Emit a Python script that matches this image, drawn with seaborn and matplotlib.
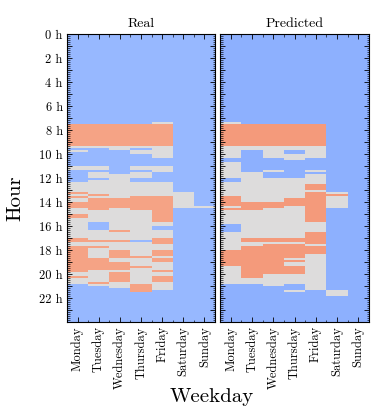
import numpy as np
import matplotlib
matplotlib.use("Agg")
import matplotlib.pyplot as plt
import seaborn as sns
from matplotlib.colors import ListedColormap
from matplotlib.ticker import FixedLocator, MultipleLocator

# 状態: 0 = blue, 1 = grey, 2 = salmon
B, G, S = 0, 1, 2

days = ["Monday", "Tuesday", "Wednesday", "Thursday", "Friday", "Saturday", "Sunday"]
hour_labels = [f"{h} h" if h % 2 == 0 else "" for h in range(24)]
titles = ["Real", "Predicted"]

# (start hour, end hour, state) painted in order over a blue background
real_segments = {
    "Monday": [(9.25, 9.58, G), (9.67, 9.83, G), (11.08, 11.25, G), (12.25, 20.83, G),
               (7.5, 9.25, S), (13.17, 13.33, S), (13.5, 13.75, S), (14.0, 14.58, S),
               (15.08, 15.25, S), (15.42, 15.58, B), (17.08, 17.25, S), (17.67, 19.83, S),
               (20.17, 20.33, S)],
    "Tuesday": [(9.25, 9.42, G), (11.08, 11.25, G), (11.58, 20.97, G), (12.0, 12.17, B),
                (7.5, 9.25, S), (9.42, 9.58, S), (13.25, 13.42, S), (13.75, 14.42, S),
                (14.58, 14.75, S), (15.75, 15.92, B), (16.08, 16.25, B), (17.17, 17.33, S),
                (17.75, 17.83, S), (18.5, 18.58, S), (18.75, 19.67, S), (20.67, 20.83, S)],
    "Wednesday": [(9.25, 9.75, G), (11.75, 11.92, G), (12.08, 21.17, G), (12.42, 12.58, B),
                  (7.5, 9.25, S), (13.75, 14.58, S), (15.92, 16.08, B), (16.25, 16.42, S),
                  (17.17, 17.33, S), (17.92, 18.67, S), (19.08, 19.67, S), (19.83, 20.67, S)],
    "Thursday": [(9.25, 9.42, G), (9.75, 10.08, G), (11.08, 11.25, G), (11.58, 21.5, G),
                 (12.08, 12.25, B), (7.5, 9.25, S), (13.5, 14.75, S), (16.42, 16.58, B),
                 (17.17, 17.33, B), (18.58, 18.75, S), (19.25, 19.5, S), (20.83, 21.5, S)],
    "Friday": [(7.33, 7.5, G), (9.25, 10.25, G), (11.08, 11.58, G), (12.25, 21.33, G),
               (7.5, 9.25, S), (13.5, 15.75, S), (15.92, 16.25, B), (16.92, 17.58, S),
               (17.92, 18.42, S), (18.75, 19.0, S), (19.67, 19.83, S), (20.17, 20.42, S),
               (20.58, 20.75, S)],
    "Saturday": [(13.17, 14.58, G), (13.42, 13.58, S)],
    "Sunday": [(14.33, 14.58, G)],
}

pred_segments = {
    "Monday": [(7.25, 7.5, G), (9.25, 10.25, G), (10.42, 10.58, G), (10.75, 20.83, G),
               (12.08, 12.25, B), (7.5, 9.25, S), (13.58, 14.25, S), (14.42, 14.75, S),
               (15.83, 16.42, B), (17.92, 19.25, S)],
    "Tuesday": [(7.42, 7.58, G), (9.25, 9.75, G), (11.58, 20.83, G), (7.58, 9.25, S),
                (13.92, 14.42, S), (14.5, 14.75, S), (17.08, 17.25, S), (17.67, 20.33, S)],
    "Wednesday": [(9.25, 9.92, G), (10.08, 10.25, G), (11.25, 11.42, G), (11.92, 20.92, G),
                  (7.5, 9.25, S), (14.08, 14.58, S), (17.08, 17.25, S), (17.42, 20.0, S)],
    "Thursday": [(7.42, 7.58, G), (9.25, 9.75, G), (10.0, 10.42, G), (11.92, 20.83, G),
                 (21.33, 21.5, G), (7.58, 9.25, S), (13.75, 14.25, S), (17.08, 17.25, S),
                 (17.42, 18.67, S), (18.83, 19.08, S), (19.25, 20.0, S)],
    "Friday": [(9.25, 10.25, G), (11.25, 11.42, G), (11.75, 21.33, G), (7.5, 9.25, S),
               (12.58, 12.92, S), (13.17, 15.75, S), (16.58, 17.58, S), (17.75, 18.25, S)],
    "Saturday": [(13.17, 14.42, G), (13.33, 13.42, S), (21.33, 21.83, G)],
    "Sunday": [],
}

SLOTS_PER_HOUR = 6


def build(segments):
    m = np.zeros((24 * SLOTS_PER_HOUR, len(days)))
    for j, d in enumerate(days):
        for start, end, state in segments[d]:
            m[round(start * SLOTS_PER_HOUR):round(end * SLOTS_PER_HOUR), j] = state
    return m


plt.rcParams["font.family"] = "serif"
plt.rcParams["font.serif"] = ["cmr10", "DejaVu Serif"]
plt.rcParams["mathtext.fontset"] = "cm"
plt.rcParams["axes.formatter.use_mathtext"] = True

cmaps = [ListedColormap(["#97b8ff", "#dddcdc", "#f5a385"]),
         ListedColormap(["#8db0fe", "#dddcdc", "#f49a7b"])]

fig = plt.figure(figsize=(3.74, 4.11), dpi=100)
ax1 = fig.add_axes([0.179, 0.2165, 0.396, 0.7005])
ax2 = fig.add_axes([0.589, 0.2165, 0.397, 0.7005])

for ax, segs, cmap, title in zip([ax1, ax2], [real_segments, pred_segments], cmaps, titles):
    sns.heatmap(build(segs), ax=ax, cmap=cmap, vmin=-0.5, vmax=2.5, cbar=False,
                xticklabels=days, yticklabels=False)
    ax.set_title(title, fontsize=10, pad=5)
    ax.xaxis.set_major_locator(FixedLocator(np.arange(len(days)) + 0.5))
    ax.xaxis.set_minor_locator(MultipleLocator(1))
    ax.set_xticklabels(days, rotation=90, fontsize=9)
    ax.yaxis.set_major_locator(FixedLocator(np.arange(24) * SLOTS_PER_HOUR))
    ax.yaxis.set_minor_locator(MultipleLocator(1))
    ax.set_yticklabels(hour_labels if ax is ax1 else [""] * 24, fontsize=9)
    ax.tick_params(which="both", direction="in", top=True, right=True, bottom=True, left=True,
                   width=0.6, color="black", pad=3)
    ax.tick_params(which="major", length=3.5)
    ax.tick_params(which="minor", length=1.8, width=0.45)
    for sp in ax.spines.values():
        sp.set_visible(True)
        sp.set_linewidth(0.8)
    ax.set_xlabel("")
    ax.set_ylabel("")

fig.text(0.566, 0.034, "Weekday", ha="center", va="center", fontsize=15)
fig.text(0.04, 0.518, "Hour", ha="center", va="center", rotation=90, fontsize=15)

fig.savefig("out.png", dpi=100)
